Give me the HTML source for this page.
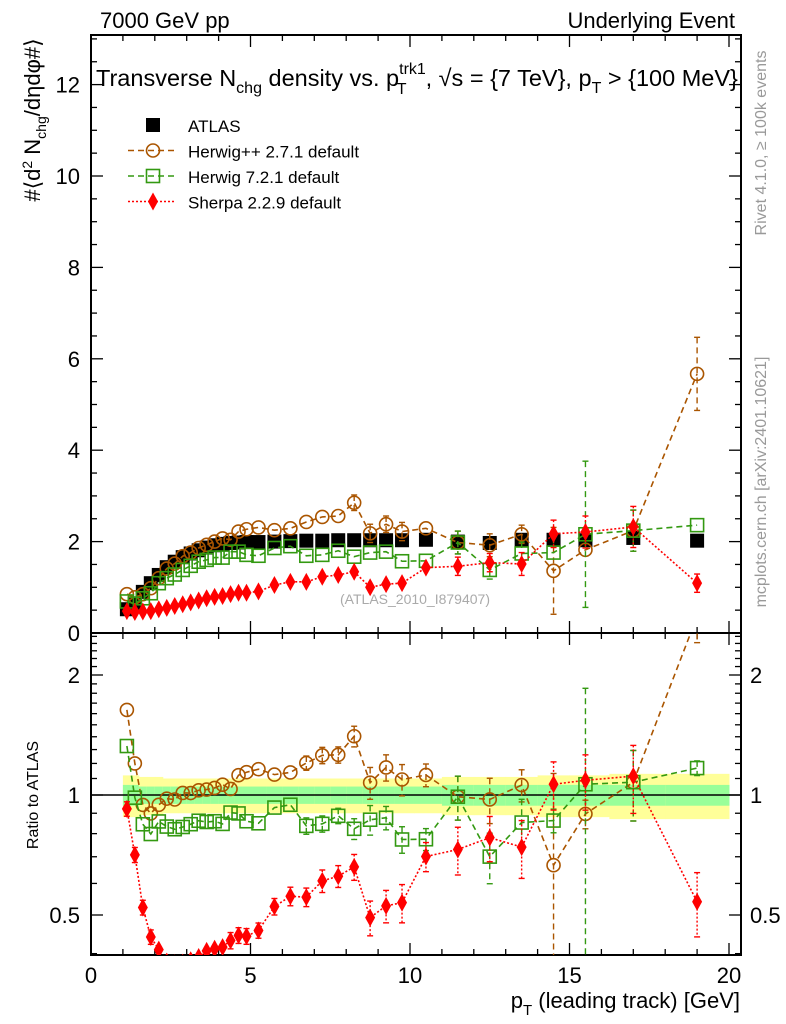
<!DOCTYPE html>
<html><head><meta charset="utf-8">
<style>
html,body{margin:0;padding:0;background:#fff;width:786px;height:1024px;overflow:hidden;}
svg{display:block;font-family:"Liberation Sans",sans-serif;}
</style></head>
<body>
<svg id="chart" width="786" height="1024" viewBox="0 0 786 1024" xmlns="http://www.w3.org/2000/svg">
<text x="100" y="28" font-size="22">7000 GeV pp</text>
<text x="735" y="28" font-size="22" text-anchor="end">Underlying Event</text>
<text x="96" y="86" font-size="23.5">Transverse N<tspan font-size="16" dy="7">chg</tspan><tspan dy="-7"> density vs. p</tspan><tspan font-size="16" dy="-12">trk1</tspan><tspan font-size="16" dx="-29" dy="20">T</tspan><tspan dx="19" dy="-8">, √s = {7 TeV}, p</tspan><tspan font-size="16" dy="7">T</tspan><tspan dy="-7"> &gt; {100 MeV}</tspan></text>
<text transform="translate(40,120) rotate(-90)" font-size="22" text-anchor="middle">#⟨d<tspan font-size="14" dy="-8">2</tspan><tspan dy="8"> N</tspan><tspan font-size="14" dy="6">chg</tspan><tspan dy="-6">/dηdφ#⟩</tspan></text>
<text transform="translate(38,795) rotate(-90)" font-size="16" text-anchor="middle">Ratio to ATLAS</text>
<text transform="translate(766,143) rotate(-90)" font-size="16" fill="#999" text-anchor="middle">Rivet 4.1.0, ≥ 100k events</text>
<text transform="translate(766,482) rotate(-90)" font-size="16" fill="#999" text-anchor="middle">mcplots.cern.ch [arXiv:2401.10621]</text>
<text x="740" y="1008" font-size="22" text-anchor="end">p<tspan font-size="15" dy="7">T</tspan><tspan dy="-7"> (leading track) [GeV]</tspan></text>
<text x="415" y="604" font-size="14" fill="#aaa" text-anchor="middle">(ATLAS_2010_I879407)</text>
<g id="legend"></g>
<g id="plot"></g>
</svg>
<script>
const xs=[1.125,1.375,1.625,1.875,2.125,2.375,2.625,2.875,3.125,3.375,3.625,3.875,4.125,4.375,4.625,4.875,5.25,5.75,6.25,6.75,7.25,7.75,8.25,8.75,9.25,9.75,10.5,11.5,12.5,13.5,14.5,15.5,17,19];
const atlas=[0.52,0.65,0.9,1.09,1.27,1.44,1.56,1.66,1.74,1.81,1.87,1.92,1.95,1.97,1.98,1.99,1.99,2.0,2.01,2.02,2.02,2.03,2.03,2.03,2.03,2.03,2.04,2.0,1.97,2.04,2.04,2.03,2.08,2.02];
const herwigpp=[0.85,0.78,0.85,0.98,1.2,1.41,1.52,1.68,1.76,1.86,1.93,2.0,2.07,2.04,2.22,2.27,2.31,2.25,2.29,2.43,2.54,2.56,2.85,2.18,2.38,2.22,2.29,1.98,1.92,2.16,1.36,1.82,2.24,5.67];
const herwigppErr=[0.02,0.02,0.02,0.02,0.02,0.02,0.02,0.02,0.02,0.02,0.03,0.03,0.03,0.04,0.04,0.04,0.04,0.05,0.06,0.1,0.12,0.12,0.17,0.2,0.18,0.2,0.15,0.25,0.25,0.2,0.95,0.15,0.45,0.8];
const herwig7=[0.69,0.64,0.76,0.87,1.09,1.2,1.28,1.38,1.47,1.56,1.6,1.65,1.65,1.78,1.78,1.71,1.69,1.86,1.9,1.69,1.71,1.8,1.67,1.76,1.78,1.57,1.58,1.98,1.38,1.74,1.76,2.16,2.24,2.36];
const herwig7Err=[0.02,0.02,0.02,0.02,0.02,0.02,0.02,0.02,0.02,0.02,0.03,0.03,0.03,0.03,0.03,0.03,0.04,0.05,0.05,0.08,0.08,0.08,0.1,0.15,0.12,0.12,0.1,0.25,0.2,0.25,0.12,1.6,0.45,0.1];
const sherpa=[0.48,0.46,0.47,0.48,0.52,0.55,0.59,0.63,0.67,0.71,0.76,0.79,0.81,0.85,0.88,0.88,0.91,1.05,1.12,1.12,1.23,1.27,1.34,1.0,1.07,1.09,1.43,1.46,1.54,1.51,2.17,2.21,2.32,1.09];
const sherpaErr=[0.02,0.02,0.02,0.02,0.02,0.02,0.02,0.02,0.02,0.02,0.03,0.03,0.03,0.04,0.04,0.04,0.04,0.05,0.06,0.06,0.08,0.08,0.1,0.1,0.1,0.12,0.12,0.2,0.2,0.25,0.3,0.35,0.45,0.2];
const bandYellow=[0.12,0.12,0.11,0.11,0.11,0.1,0.1,0.1,0.1,0.1,0.1,0.1,0.1,0.1,0.1,0.1,0.1,0.1,0.1,0.1,0.1,0.1,0.1,0.1,0.1,0.1,0.1,0.11,0.11,0.11,0.12,0.12,0.13,0.13];
const bandGreen=[0.06,0.06,0.05,0.05,0.05,0.05,0.05,0.05,0.05,0.05,0.05,0.05,0.05,0.05,0.05,0.05,0.05,0.05,0.05,0.05,0.05,0.05,0.05,0.05,0.05,0.05,0.05,0.06,0.06,0.06,0.06,0.06,0.06,0.06];
const yTicks=[0,2,4,6,8,10,12];
const xTicks=[0,5,10,15,20];
const rTicks=[0.5,1,2];

const NS="http://www.w3.org/2000/svg";
const L=91,R=741,T=35,MB=633,B=955;
const xMin=0;
const X=v=>L+(v-xMin)*31.9;
const Y=v=>MB-v*45.7;
const YR=r=>795-120*Math.log2(r);
const plot=document.getElementById('plot');
const legend=document.getElementById('legend');
function el(tag,attrs,parent){const e=document.createElementNS(NS,tag);for(const k in attrs)e.setAttribute(k,attrs[k]);(parent||plot).appendChild(e);return e;}

const defs=el('defs',{});
const c1=el('clipPath',{id:'cm'},defs);el('rect',{x:L,y:T,width:R-L,height:MB-T},c1);
const c2=el('clipPath',{id:'cr'},defs);el('rect',{x:L,y:MB,width:R-L,height:B-MB},c2);

function edges(i){const lo=i===0?1.0:(xs[i-1]+xs[i])/2;const hi=i===xs.length-1?20:(xs[i]+xs[i+1])/2;return [lo,hi];}

const gBand=el('g',{'clip-path':'url(#cr)'});


xs.forEach((x,i)=>{const [lo,hi]=edges(i);
 el('rect',{x:X(lo),y:YR(1+bandYellow[i]),width:X(hi)-X(lo)+0.5,height:YR(1-bandYellow[i])-YR(1+bandYellow[i]),fill:'#ffff99'},gBand);
 el('rect',{x:X(lo),y:YR(1+bandGreen[i]),width:X(hi)-X(lo)+0.5,height:YR(1-bandGreen[i])-YR(1+bandGreen[i]),fill:'#99ff99'},gBand);
});
const unity=el('line',{x1:L,x2:R,y1:YR(1),y2:YR(1),stroke:'#000','stroke-width':1.5});



const f1=el('rect',{x:L,y:T,width:R-L,height:MB-T,fill:'none',stroke:'#000','stroke-width':2});


const f2=el('rect',{x:L,y:MB,width:R-L,height:B-MB,fill:'none',stroke:'#000','stroke-width':2});



for(let v=0;v<=20;v+=1){const major=v%5===0;const len=major?12:6;const px=X(v);
 [[MB,-1],[T,1],[B,-1],[MB,1]].forEach(([yy,d])=>el('line',{x1:px,x2:px,y1:yy,y2:yy+d*len,stroke:'#000','stroke-width':1.3}));
}
xTicks.forEach(v=>{const t=el('text',{x:X(v),y:983,'font-size':22,'text-anchor':'middle'});t.textContent=v;
 
 });
for(let v=0;v<=13;v+=0.5){const major=v%2===0;const len=major?12:6;const py=Y(v);if(py<T)continue;
 el('line',{x1:L,x2:L+len,y1:py,y2:py,stroke:'#000','stroke-width':1.3});
 el('line',{x1:R,x2:R-len,y1:py,y2:py,stroke:'#000','stroke-width':1.3});}
yTicks.forEach(v=>{const t=el('text',{x:80,y:Y(v)+8,'font-size':22,'text-anchor':'end'});t.textContent=v;
 
 });
[0.4,0.5,0.6,0.7,0.8,0.9,1,1.1,1.2,1.3,1.4,1.5,1.6,1.7,1.8,1.9,2,2.1,2.2,2.3,2.4,2.5].forEach(v=>{const py=YR(v);if(py<MB||py>B)return;
 const major=rTicks.includes(v);const len=major?12:6;
 el('line',{x1:L,x2:L+len,y1:py,y2:py,stroke:'#000','stroke-width':1.3});
 el('line',{x1:R,x2:R-len,y1:py,y2:py,stroke:'#000','stroke-width':1.3});});
rTicks.forEach(v=>{const t=el('text',{x:80,y:YR(v)+8,'font-size':22,'text-anchor':'end'});t.textContent=v;
 
 
 const t2=el('text',{x:750,y:YR(v)+8,'font-size':22});t2.textContent=v;
 
 });

function marker(g,type,cx,cy,color){
 if(type==='circle')el('circle',{cx,cy,r:6.5,fill:'none',stroke:color,'stroke-width':1.6},g);
 else if(type==='square')el('rect',{x:cx-6.5,y:cy-6.5,width:13,height:13,fill:'none',stroke:color,'stroke-width':1.6},g);
 else if(type==='diamond')el('path',{d:`M${cx} ${cy-9}L${cx+5} ${cy}L${cx} ${cy+9}L${cx-5} ${cy}Z`,fill:color},g);
 else el('rect',{x:cx-7,y:cy-7,width:14,height:14,fill:color},g);
}
function series(name,vals,errs,color,type,dash){
 [['cm',''],['cr','ratio-']].forEach(([clip,pre],k)=>{
  const g=el('g',{'clip-path':`url(#${clip})`});
  
  
  const yy=(i,d)=>{if(k===0)return Y(vals[i]+(d||0));return YR(Math.max(0.05,(vals[i]+(d||0))/atlas[i]));};
  if(dash!==null){let dstr='';xs.forEach((x,i)=>{dstr+=(i?'L':'M')+X(x)+' '+yy(i);});
   el('path',{d:dstr,fill:'none',stroke:color,'stroke-width':1.6,'stroke-dasharray':dash},g);}
  xs.forEach((x,i)=>{
   if(errs){const e=errs[i];const y1=yy(i,e),y2=yy(i,-Math.min(e,vals[i]*0.98));
    if(Math.abs(y2-y1)>14){
    el('line',{x1:X(x),x2:X(x),y1,y2,stroke:color,'stroke-width':1.4,'stroke-dasharray':dash||''},g);
    el('line',{x1:X(x)-3,x2:X(x)+3,y1,y2:y1,stroke:color,'stroke-width':1.4},g);
    el('line',{x1:X(x)-3,x2:X(x)+3,y1:y2,y2,stroke:color,'stroke-width':1.4},g);}}
   if(k===1&&name==='atlas')return;
   marker(g,type,X(x),yy(i),color);
  });
 });
}
series('atlas',atlas,null,'#000','fill',null);
series('herwigpp',herwigpp,herwigppErr,'#aa5500','circle','6,4');
series('herwig7',herwig7,herwig7Err,'#339911','square','6,4');
series('sherpa',sherpa,sherpaErr,'#ff0000','diamond','2,2');

const items=[['ATLAS','#000','fill',null],['Herwig++ 2.7.1 default','#aa5500','circle','6,4'],['Herwig 7.2.1 default','#339911','square','6,4'],['Sherpa 2.2.9 default','#ff0000','diamond','2,2']];
items.forEach((it,i)=>{const y=125+i*25.5;
 const g=el('g',{},legend);
 
 
 if(it[3])el('line',{x1:128,x2:175,y1:y,y2:y,stroke:it[1],'stroke-width':1.5,'stroke-dasharray':it[3]},g);
 marker(g,it[2],153,y,it[1]);
 const t=el('text',{x:188,y:y+7,'font-size':17},g);t.textContent=it[0];
});
</script>
</body></html>
